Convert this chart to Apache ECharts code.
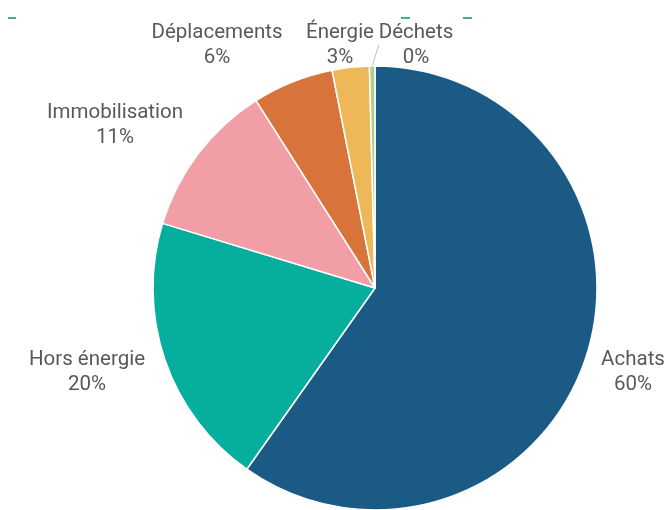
<!DOCTYPE html>
<html>
<head>
<meta charset="utf-8">
<script src="https://cdn.jsdelivr.net/npm/echarts@6/dist/echarts.min.js"></script>
<style>
html,body{margin:0;padding:0;background:#fff;}
#chart{width:671px;height:510px;}
</style>
</head>
<body>
<div id="chart"></div>
<script>
const categories = ['Achats', 'Hors énergie', 'Immobilisation', 'Déplacements', 'Énergie', 'Déchets'];
const values = [59.8, 19.9, 11.3, 5.9, 2.7, 0.4];
const percentLabels = ['60%', '20%', '11%', '6%', '3%', '0%'];
const colors = ['#1a5a84', '#06ae9e', '#f19ea6', '#d8733b', '#eeb858', '#a9d18e'];

// label centre positions (text placement only)
const labelPos = [[633, 372], [87, 372], [115, 125], [217, 45], [340, 45], [416, 45]];

const chart = echarts.init(document.getElementById('chart'), null, {renderer: 'canvas'});
const option = {
  animation: false,
  backgroundColor: '#ffffff',
  graphic: [
    {type: 'line', shape: {x1: 8, y1: 18, x2: 16, y2: 18}, style: {stroke: '#3bb3a3', lineWidth: 2}},
    {type: 'line', shape: {x1: 401, y1: 18, x2: 410, y2: 18}, style: {stroke: '#3bb3a3', lineWidth: 2}},
    {type: 'line', shape: {x1: 463, y1: 18, x2: 472, y2: 18}, style: {stroke: '#3bb3a3', lineWidth: 2}}
  ],
  series: [{
    type: 'pie',
    center: [375, 288],
    radius: 222,
    startAngle: 90,
    clockwise: true,
    avoidLabelOverlap: false,
    itemStyle: {borderColor: '#ffffff', borderWidth: 1.5},
    label: {
      show: true,
      position: 'outside',
      color: '#595959',
      fontFamily: 'Roboto',
      fontSize: 20.5,
      lineHeight: 25,
      align: 'center',
      formatter: p => p.name + '\n' + percentLabels[p.dataIndex]
    },
    labelLine: {show: false},
    labelLayout: p => ({
      x: labelPos[p.dataIndex][0],
      y: labelPos[p.dataIndex][1],
      align: 'center',
      verticalAlign: 'middle'
    }),
    data: categories.map((c, i) => ({
      name: c,
      value: values[i],
      itemStyle: {color: colors[i]},
      labelLine: i === 5 ? {show: true, length: 10, length2: 0, lineStyle: {color: '#bfbfbf', width: 1}} : {show: false}
    }))
  }]
};
chart.setOption(option);
</script>
</body>
</html>
